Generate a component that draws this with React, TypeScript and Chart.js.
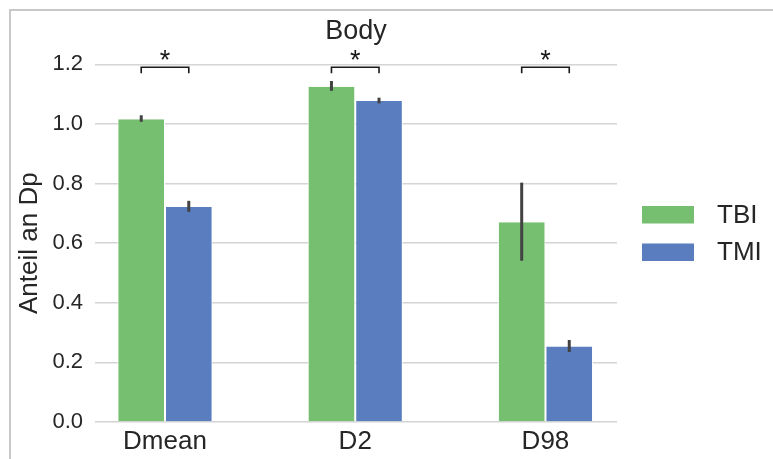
import { useEffect, useRef } from 'react';
import { Chart, registerables } from 'chart.js';

Chart.register(...registerables);

const categories = ['Dmean', 'D2', 'D98'];
const seriesNames = ['TBI', 'TMI'];
const seriesColors = ['#76bf71', '#597dbf'];
const tbiValues = [1.016, 1.125, 0.67];
const tmiValues = [0.721, 1.077, 0.253];
const tbiErrLow = [1.007, 1.111, 0.541];
const tbiErrHigh = [1.029, 1.144, 0.803];
const tmiErrLow = [0.705, 1.069, 0.235];
const tmiErrHigh = [0.742, 1.088, 0.275];
const sigLabels = ['*', '*', '*'];
const bracketTop = [1.19, 1.19, 1.19];
const bracketDrop = [0.02, 0.02, 0.02];
const chartTitle = 'Body';
const yTitle = 'Anteil an Dp';

const FONT = "'Liberation Sans', Arial, Helvetica, sans-serif";
const TEXT = '#262626';

const overlay = {
  id: 'overlay',
  afterDatasetsDraw(chart: any) {
    const ctx = chart.ctx;
    const y = chart.scales.y;
    const errs = [
      [tbiErrLow, tbiErrHigh],
      [tmiErrLow, tmiErrHigh],
    ];
    ctx.save();
    ctx.strokeStyle = '#424242';
    ctx.lineWidth = 3;
    ctx.lineCap = 'butt';
    errs.forEach(([lo, hi], d) => {
      const meta = chart.getDatasetMeta(d);
      meta.data.forEach((bar: any, i: number) => {
        ctx.beginPath();
        ctx.moveTo(bar.x, y.getPixelForValue(lo[i]));
        ctx.lineTo(bar.x, y.getPixelForValue(hi[i]));
        ctx.stroke();
      });
    });
    ctx.restore();
  },
  afterDraw(chart: any) {
    const ctx = chart.ctx;
    const y = chart.scales.y;
    const area = chart.chartArea;
    const m0 = chart.getDatasetMeta(0);
    const m1 = chart.getDatasetMeta(1);
    ctx.save();
    // significance brackets
    ctx.strokeStyle = '#1a1a1a';
    ctx.lineWidth = 1.6;
    ctx.fillStyle = '#1a1a1a';
    ctx.font = `27px ${FONT}`;
    ctx.textAlign = 'center';
    ctx.textBaseline = 'alphabetic';
    categories.forEach((_, i) => {
      const x1 = m0.data[i].x;
      const x2 = m1.data[i].x;
      const yt = y.getPixelForValue(bracketTop[i]);
      const yb = y.getPixelForValue(bracketTop[i] - bracketDrop[i]);
      ctx.beginPath();
      ctx.moveTo(x1, yb);
      ctx.lineTo(x1, yt);
      ctx.lineTo(x2, yt);
      ctx.lineTo(x2, yb);
      ctx.stroke();
      ctx.fillText(sigLabels[i], (x1 + x2) / 2, yt + 2);
    });
    // legend
    const lx = area.right + 25;
    const ly = 206;
    const rowH = 37.5;
    ctx.textAlign = 'left';
    ctx.textBaseline = 'middle';
    ctx.font = `26px ${FONT}`;
    seriesNames.forEach((name, k) => {
      const top = ly + k * rowH;
      ctx.fillStyle = seriesColors[k];
      ctx.fillRect(lx, top, 52, 17.5);
      ctx.fillStyle = TEXT;
      ctx.fillText(name, lx + 75, top + 9.5);
    });
    // figure frame
    ctx.fillStyle = '#c8c8c8';
    ctx.fillRect(9, 9, 2, chart.height);
    ctx.fillRect(9, 9, chart.width, 2);
    ctx.restore();
  },
};

export default function App() {
  const ref = useRef<HTMLCanvasElement>(null);
  useEffect(() => {
    Chart.defaults.font.family = FONT;
    const barBorder = { top: 0, bottom: 0, left: 1, right: 1 };
    const chart = new Chart(ref.current as HTMLCanvasElement, {
      type: 'bar',
      data: {
        datasets: [
          {
            label: seriesNames[0],
            data: tbiValues.map((v, i) => ({ x: i, y: v })),
            backgroundColor: seriesColors[0],
            borderColor: '#ffffff',
            borderWidth: barBorder,
            borderSkipped: false,
            categoryPercentage: 0.5,
            barPercentage: 1,
          },
          {
            label: seriesNames[1],
            data: tmiValues.map((v, i) => ({ x: i, y: v })),
            backgroundColor: seriesColors[1],
            borderColor: '#ffffff',
            borderWidth: barBorder,
            borderSkipped: false,
            categoryPercentage: 0.5,
            barPercentage: 1,
          },
        ],
      } as any,
      options: {
        responsive: false,
        animation: false,
        devicePixelRatio: 1,
        layout: { padding: { top: 0, left: 0, right: 156, bottom: 0 } },
        plugins: {
          legend: { display: false },
          tooltip: { enabled: false },
          title: {
            display: true,
            text: chartTitle,
            fullSize: false,
            color: TEXT,
            font: { size: 27, weight: 'normal', family: FONT },
            padding: { top: 15.5, bottom: 16.4 },
          },
        },
        scales: {
          x: {
            type: 'linear',
            offset: false,
            min: -0.368,
            max: 2.376,
            afterBuildTicks: (s: any) => {
              s.ticks = categories.map((_, i) => ({ value: i }));
            },
            afterFit: (s: any) => {
              s.height = 37;
            },
            ticks: {
              callback: (v: any) => categories[Math.round(Number(v))] ?? '',
              color: TEXT,
              font: { size: 26, family: FONT },
              padding: 4,
              maxRotation: 0,
              autoSkip: false,
            },
            grid: { display: false, drawTicks: false, offset: false },
            border: { display: false },
          },
          y: {
            min: 0,
            max: 1.2,
            afterFit: (s: any) => {
              s.width = 95;
            },
            ticks: {
              stepSize: 0.2,
              callback: (v: any) => Number(v).toFixed(1),
              color: TEXT,
              font: { size: 22, family: FONT },
              padding: 12,
            },
            grid: { color: '#d4d4d4', lineWidth: 1.6, drawTicks: false },
            border: { display: false },
            title: {
              display: true,
              text: yTitle,
              color: TEXT,
              font: { size: 26, family: FONT },
              padding: { top: 14, bottom: 0 },
            },
          },
        },
      } as any,
      plugins: [overlay],
    });
    return () => chart.destroy();
  }, []);
  return (
    <div style={{ position: 'fixed', left: 0, top: 0, width: 773, height: 459, background: '#ffffff' }}>
      <canvas ref={ref} width={773} height={459} style={{ display: 'block' }} />
    </div>
  );
}
